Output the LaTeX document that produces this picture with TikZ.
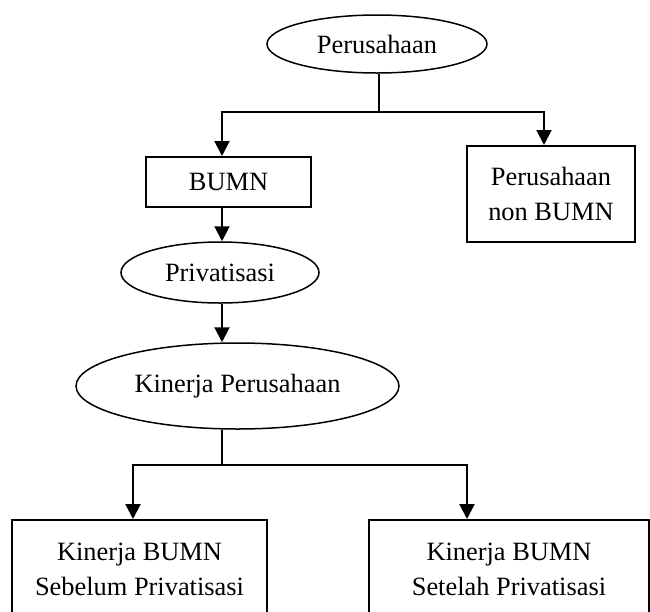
\documentclass[tikz,border=0pt]{standalone}
\usepackage{fontspec}
\setmainfont{Liberation Serif}
\usetikzlibrary{arrows.meta,shapes.geometric}

\tikzset{
  oval/.style={draw, ellipse, line width=0.75pt, inner sep=0pt},
  kotak/.style={draw, rectangle, line width=1pt, inner sep=0pt, align=center},
  garis/.style={line width=1pt},
  panah/.style={line width=1pt, -{Triangle[width=7.5pt,length=7.5pt]}},
}

\begin{document}
\begin{tikzpicture}[x=0.5pt, y=-0.5pt, font=\fontsize{13.2}{17.5}\selectfont]
  \useasboundingbox (0,0) rectangle (650,612);
  \clip (0,0) rectangle (650,612);

  % Nodes
  \node[oval, minimum width=110pt, minimum height=29pt] (perusahaan) at (377,44) {Perusahaan};
  \node[kotak, minimum width=82.5pt, minimum height=25pt] (bumn) at (228.5,182) {BUMN};
  \node[kotak, minimum width=84pt, minimum height=48pt] (nonbumn) at (551,194) {Perusahaan\\non BUMN};
  \node[oval, minimum width=99pt, minimum height=30.5pt] (privatisasi) at (220,272.5) {Privatisasi};
  \node[oval, minimum width=161.5pt, minimum height=43pt] (kinerja) at (237.5,386) {Kinerja Perusahaan};
  \node[kotak, minimum width=127.5pt, minimum height=49pt] (sebelum) at (139.5,569) {Kinerja BUMN\\Sebelum Privatisasi};
  \node[kotak, minimum width=140pt, minimum height=49pt] (setelah) at (509,569) {Kinerja BUMN\\Setelah Privatisasi};

  % Branch points
  \coordinate (c1) at (379,112);
  \coordinate (kiri1) at (222,112);
  \coordinate (kanan1) at (544,112);
  \coordinate (c2) at (222,465);
  \coordinate (kiri2) at (133,465);
  \coordinate (kanan2) at (467,465);

  % Connectors
  \draw[garis] (c1 |- perusahaan.south) -- (c1);
  \draw[panah] (c1) -- (kiri1) -- (kiri1 |- bumn.north);
  \draw[panah] (c1) -- (kanan1) -- (kanan1 |- nonbumn.north);
  \draw[panah] (kiri1 |- bumn.south) -- (kiri1 |- privatisasi.north);
  \draw[panah] (kiri1 |- privatisasi.south) -- (kiri1 |- kinerja.north);
  \draw[garis] (c2 |- kinerja.south) -- (c2);
  \draw[panah] (c2) -- (kiri2) -- (kiri2 |- sebelum.north);
  \draw[panah] (c2) -- (kanan2) -- (kanan2 |- setelah.north);
\end{tikzpicture}
\end{document}
